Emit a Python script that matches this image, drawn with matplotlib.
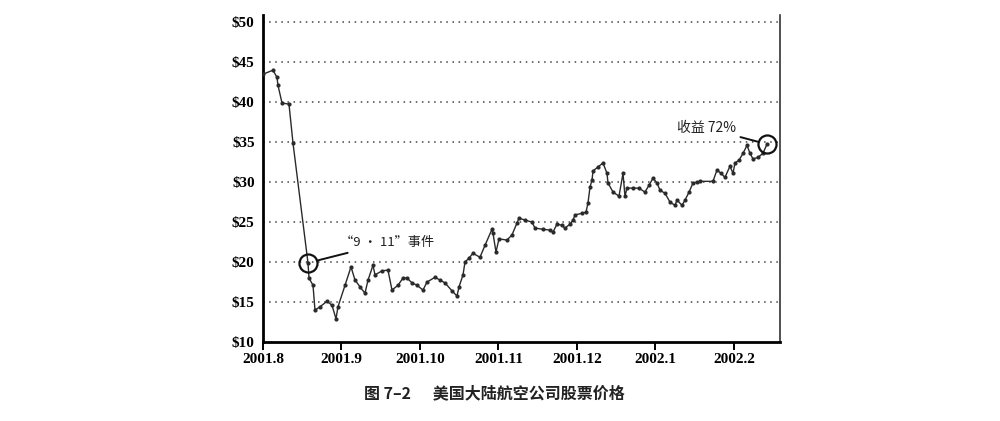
import matplotlib
matplotlib.use("Agg")
import matplotlib.pyplot as plt

# Data (x in months since 2001-08-01, price in USD)
months = [0.0, 0.127, 0.178, 0.191, 0.242, 0.331, 0.382, 0.573, 0.586, 0.637,
          0.662, 0.726, 0.815, 0.879, 0.930, 0.955, 1.045, 1.121, 1.172, 1.236,
          1.299, 1.338, 1.401, 1.427, 1.516, 1.592, 1.643, 1.720, 1.783, 1.834,
          1.898, 1.962, 2.038, 2.089, 2.191, 2.255, 2.318, 2.408, 2.471, 2.497,
          2.548, 2.573, 2.624, 2.675, 2.764, 2.828, 2.917, 2.930, 2.968, 3.006,
          3.108, 3.172, 3.236, 3.261, 3.338, 3.427, 3.465, 3.567, 3.656, 3.694,
          3.745, 3.809, 3.847, 3.911, 3.949, 3.975, 4.064, 4.115, 4.140, 4.166,
          4.191, 4.204, 4.268, 4.331, 4.382, 4.395, 4.459, 4.535, 4.586, 4.611,
          4.637, 4.713, 4.790, 4.866, 4.917, 4.968, 5.019, 5.057, 5.121, 5.185,
          5.248, 5.274, 5.338, 5.376, 5.427, 5.478, 5.529, 5.567, 5.732, 5.783,
          5.834, 5.885, 5.949, 5.987, 6.013, 6.064, 6.115, 6.166, 6.204, 6.242,
          6.306, 6.369, 6.420]
prices = [43.5, 44.0, 43.1, 42.1, 39.9, 39.75, 34.9, 19.9, 18.0, 17.1,
          14.0, 14.4, 15.1, 14.6, 12.9, 14.4, 17.1, 19.4, 17.75, 16.9,
          16.1, 17.75, 19.6, 18.4, 18.9, 19.0, 16.5, 17.1, 18.0, 18.0,
          17.4, 17.1, 16.5, 17.5, 18.1, 17.75, 17.4, 16.4, 15.75, 16.9,
          18.4, 20.0, 20.5, 21.1, 20.6, 22.1, 24.1, 23.6, 21.25, 22.9,
          22.75, 23.4, 24.9, 25.5, 25.25, 25.0, 24.25, 24.1, 24.0, 23.75,
          24.75, 24.6, 24.25, 24.75, 25.25, 25.9, 26.1, 26.25, 27.4, 29.4,
          30.25, 31.4, 31.9, 32.4, 31.1, 29.9, 28.75, 28.25, 31.1, 28.25,
          29.25, 29.25, 29.25, 28.75, 29.6, 30.5, 29.9, 29.0, 28.6, 27.5,
          27.1, 27.75, 27.1, 27.75, 28.75, 29.9, 30.0, 30.1, 30.1, 31.5,
          31.1, 30.6, 32.0, 31.1, 32.4, 32.75, 33.6, 34.6, 33.6, 32.9,
          33.1, 33.6, 34.75]

x_tick_labels = ["2001.8", "2001.9", "2001.10", "2001.11", "2001.12", "2002.1", "2002.2"]
y_ticks = [10, 15, 20, 25, 30, 35, 40, 45, 50]
y_tick_labels = ["$10", "$15", "$20", "$25", "$30", "$35", "$40", "$45", "$50"]

event_index = 7
event_label = "“9 · 11”事件"
gain_label = "收益 72%"
caption = "图 7–2      美国大陆航空公司股票价格"

cjk = ["Noto Sans CJK SC", "DejaVu Sans"]
serif = ["Liberation Serif", "DejaVu Serif"]

fig = plt.figure(figsize=(10, 4.21), dpi=100)
ax = fig.add_axes([0.263, 0.1876, 0.517, 0.7767])

ax.set_xlim(0, 6.586)
ax.set_ylim(10, 50.9)

for v in y_ticks[1:]:
    ax.axhline(v, color="#444444", linestyle=(0, (1, 3)), linewidth=1.1, zorder=1)

ax.plot(months, prices, color="#2a2a2a", linewidth=1.0, marker="o",
        markersize=2.0, zorder=3)

# circles
ax.plot([months[event_index]], [prices[event_index]], marker="o", markersize=13,
        markerfacecolor="none", markeredgecolor="#111111", markeredgewidth=1.6, zorder=4)
ax.plot([months[-1]], [prices[-1]], marker="o", markersize=13,
        markerfacecolor="none", markeredgecolor="#111111", markeredgewidth=1.6, zorder=4)

ax.annotate(event_label, xy=(months[event_index], prices[event_index]),
            xytext=(0.98, 22.4), textcoords="data", ha="left", va="center",
            fontsize=9.5, family=cjk, color="#222222",
            arrowprops=dict(arrowstyle="-", color="#111111", lw=1.4,
                            shrinkA=2, shrinkB=7))
ax.annotate(gain_label, xy=(months[-1], prices[-1]),
            xytext=(6.03, 36.75), textcoords="data", ha="right", va="center",
            fontsize=10, family=cjk, color="#222222",
            arrowprops=dict(arrowstyle="-", color="#111111", lw=1.4,
                            shrinkA=1, shrinkB=7))

ax.set_xticks(range(len(x_tick_labels)))
ax.set_xticklabels(x_tick_labels, fontsize=11, family=serif, fontweight="bold")
ax.set_yticks(y_ticks)
ax.set_yticklabels(y_tick_labels, fontsize=11, family=serif, fontweight="bold")
ax.tick_params(axis="y", length=0, pad=6)
ax.tick_params(axis="x", direction="out", length=6, width=1.4, pad=2)

ax.spines["top"].set_visible(False)
ax.spines["left"].set_linewidth(2.0)
ax.spines["bottom"].set_linewidth(2.0)
ax.spines["right"].set_linewidth(1.2)
ax.spines["right"].set_color("#333333")

fig.text(0.494, 0.067, caption, ha="center", va="center", fontsize=11.5,
         fontweight="bold", family=cjk, color="#222222")

fig.savefig("out.png", dpi=100)
